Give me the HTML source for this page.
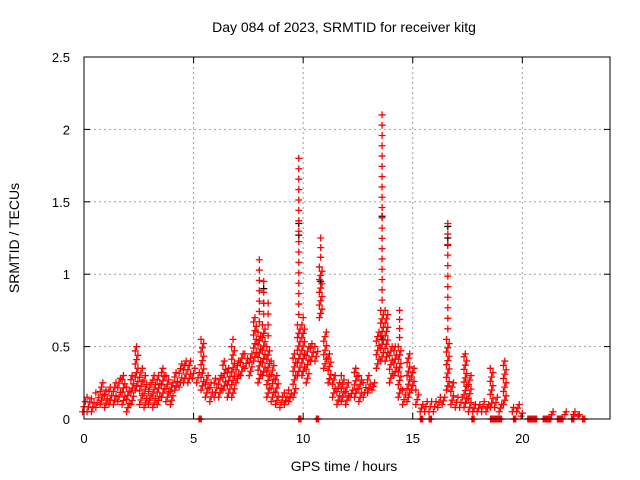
<!DOCTYPE html>
<html><head><meta charset="utf-8">
<style>
body{margin:0;background:#fff;}
svg{display:block;font-family:"Liberation Sans",sans-serif;}
</style></head>
<body>
<svg id="chart" width="640" height="480" viewBox="0 0 640 480">
<rect x="0" y="0" width="640" height="480" fill="#fff"/>
<text x="344" y="32" text-anchor="middle" font-size="14">Day 084 of 2023, SRMTID for receiver kitg</text>
<g id="grid"></g>
<g id="black"></g>
<g id="red"></g>
<g id="axes"></g>
<text x="344" y="471" text-anchor="middle" font-size="14">GPS time / hours</text>
<text transform="translate(19,238) rotate(-90)" text-anchor="middle" font-size="14">SRMTID / TECUs</text>
</svg>
<script>
const xTicks=[0,5,10,15,20];
const yTicks=[0,0.5,1,1.5,2,2.5];
const yTickLabels=["0","0.5","1","1.5","2","2.5"];
const times=[0,0.2,0.4,0.6,0.8,1.0,1.2,1.4,1.6,1.8,2.0,2.2,2.4,2.6,2.8,3.0,3.2,3.4,3.6,3.8,4.0,4.2,4.4,4.6,4.8,5.0,5.2,5.4,5.6,5.8,6.0,6.2,6.4,6.6,6.8,7.0,7.2,7.4,7.6,7.8,8.0,8.2,8.4,8.6,8.8,9.0,9.2,9.4,9.6,9.8,10.0,10.2,10.4,10.6,10.8,11.0,11.2,11.4,11.6,11.8,12.0,12.2,12.4,12.6,12.8,13.0,13.2,13.4,13.6,13.8,14.0,14.2,14.4,14.6,14.8,15.0,15.2,15.4,15.6,15.8,16.0,16.2,16.4,16.6,16.8,17.0,17.2,17.4,17.6,17.8,18.0,18.2,18.4,18.6,18.8,19.0,19.2,19.6,19.8,20.0,21.4,22.0,22.4,22.6];
const lowVals=[0.05,0.05,0.05,0.08,0.1,0.08,0.1,0.1,0.12,0.1,0.05,0.1,0.2,0.1,0.08,0.1,0.08,0.1,0.15,0.12,0.1,0.2,0.22,0.25,0.25,0.28,0.25,0.2,0.15,0.12,0.15,0.15,0.2,0.15,0.15,0.25,0.3,0.35,0.3,0.4,0.25,0.3,0.15,0.12,0.1,0.08,0.1,0.12,0.15,0.3,0.3,0.25,0.4,0.4,0.7,0.35,0.25,0.15,0.1,0.12,0.1,0.15,0.15,0.12,0.15,0.18,0.2,0.35,0.4,0.4,0.25,0.3,0.15,0.1,0.12,0.2,0.1,0.05,0.05,0.05,0.05,0.08,0.1,0.2,0.1,0.08,0.08,0.08,0.05,0.05,0.05,0.05,0.05,0.08,0.08,0.05,0.1,0.05,0.05,0.02,0.03,0.03,0.03,0.02];
const highVals=[0.12,0.15,0.14,0.18,0.25,0.2,0.22,0.25,0.28,0.3,0.22,0.3,0.5,0.35,0.3,0.25,0.3,0.3,0.35,0.3,0.25,0.32,0.38,0.4,0.4,0.35,0.32,0.55,0.3,0.25,0.28,0.3,0.4,0.35,0.55,0.4,0.45,0.45,0.45,0.7,1.1,0.95,0.8,0.4,0.3,0.15,0.18,0.2,0.45,1.8,0.7,0.5,0.52,0.5,1.25,0.6,0.45,0.3,0.25,0.3,0.25,0.2,0.35,0.3,0.25,0.3,0.25,0.6,2.1,0.75,0.5,0.5,0.75,0.2,0.45,0.35,0.2,0.1,0.12,0.12,0.12,0.15,0.15,1.35,0.25,0.15,0.15,0.45,0.3,0.1,0.1,0.12,0.1,0.35,0.15,0.1,0.4,0.08,0.1,0.04,0.05,0.05,0.05,0.03];
const zeroTimes=[5.3,9.85,10.65,15.4,15.8,17.75,18.6,18.75,18.9,19.0,19.65,20.3,20.45,20.6,21.0,21.15,21.25,21.65,21.8,22.3,22.8];
const blackTimes=[8.2,8.2,9.8,9.8,10.8,13.6,13.6,16.6,16.6,16.6];
const blackVals=[0.8,0.9,1.27,1.35,0.95,1.4,0.55,1.33,1.25,1.2];

const svg=document.getElementById('chart');
const NS='http://www.w3.org/2000/svg';
const L=84,R=610,T=57,B=419;
const sx=t=>L+t/24*(R-L);
const sy=v=>B-v/2.5*(B-T);
function mk(tag,attrs,parent){const e=document.createElementNS(NS,tag);for(const k in attrs)e.setAttribute(k,attrs[k]);parent.appendChild(e);return e;}
const grid=document.getElementById('grid');
xTicks.forEach(t=>{if(t>0){const l=mk('line',{x1:sx(t),x2:sx(t),y1:T,y2:B,stroke:'#a0a0a0','stroke-dasharray':'2,3'},grid);

}});
yTicks.forEach(v=>{if(v>0&&v<2.5){const l=mk('line',{x1:L,x2:R,y1:sy(v),y2:sy(v),stroke:'#a0a0a0','stroke-dasharray':'2,3'},grid);

}});
const axes=document.getElementById('axes');
const fr=mk('rect',{x:L,y:T,width:R-L,height:B-T,fill:'none',stroke:'#000','stroke-width':1},axes);


xTicks.forEach(t=>{
 mk('line',{x1:sx(t),x2:sx(t),y1:B,y2:B-6,stroke:'#000'},axes);
 mk('line',{x1:sx(t),x2:sx(t),y1:T,y2:T+6,stroke:'#000'},axes);
 const tx=mk('text',{x:sx(t),y:443,'text-anchor':'middle','font-size':13},axes);tx.textContent=t;
 
 
});
yTicks.forEach((v,i)=>{
 mk('line',{x1:L,x2:L+6,y1:sy(v),y2:sy(v),stroke:'#000'},axes);
 mk('line',{x1:R,x2:R-6,y1:sy(v),y2:sy(v),stroke:'#000'},axes);
 const tx=mk('text',{x:70,y:sy(v)+5,'text-anchor':'end','font-size':13},axes);tx.textContent=yTickLabels[i];
 
 
});
function plus(g,t,v,c){
 const x=sx(t),y=sy(v);
 const p=mk('path',{d:`M${x-3.5},${y}H${x+3.5}M${x},${y-3.5}V${y+3.5}`,stroke:c,'stroke-width':1.3,fill:'none'},g);
 
 
}
const bg=document.getElementById('black');
blackTimes.forEach((t,i)=>plus(bg,t,blackVals[i],'#000'));
const rg=document.getElementById('red');
times.forEach((t,i)=>{
 const lo=lowVals[i],hi=highVals[i];
 const denseTop=Math.min(hi,lo+0.35);
 const span=denseTop-lo;
 const n=Math.max(1,Math.round(span/0.03));
 for(let k=0;k<=n;k++){
  const v=lo+span*k/n;
  plus(rg,t+((k%3)-1)*0.06,v,'#f00');
 }
 if(hi>denseTop){
  const s2=hi-denseTop;
  const m=Math.max(1,Math.round(s2/0.07));
  for(let k=1;k<=m;k++){plus(rg,t,denseTop+s2*k/m,'#f00');}
 }
});
zeroTimes.forEach(t=>{plus(rg,t-0.05,0,'#f00');plus(rg,t,0,'#f00');plus(rg,t+0.05,0,'#f00');});
</script>
</body></html>
